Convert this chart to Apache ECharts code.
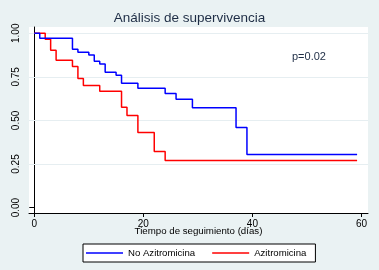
<!DOCTYPE html>
<html>
<head>
<meta charset="utf-8">
<script src="https://cdn.jsdelivr.net/npm/echarts@6/dist/echarts.min.js"></script>
<style>
  html, body { margin: 0; padding: 0; background: #eaf2f3; }
  #chart { width: 379px; height: 270px; }
</style>
</head>
<body>
<div id="chart"></div>
<script>
// tiempos (días) y supervivencia estimada
const noAziTime = [0, 1, 7, 8, 10, 11, 12, 13, 15, 16, 19, 24, 26, 29, 37, 39, 59.2];
const noAziSurv = [1.0, 0.971, 0.908, 0.891, 0.875, 0.839, 0.824, 0.776, 0.759, 0.714, 0.684, 0.655, 0.621, 0.573, 0.46, 0.305, 0.305];
const aziTime = [0, 2, 3, 4, 7, 8, 9, 12, 16, 17, 19, 22, 24, 59.2];
const aziSurv = [1.0, 0.966, 0.902, 0.845, 0.81, 0.741, 0.701, 0.668, 0.575, 0.529, 0.431, 0.322, 0.27, 0.27];
const xTicks = [0, 20, 40, 60];
const yTicks = [0, 0.25, 0.5, 0.75, 1];
const gridLines = [0.25, 0.5, 0.75, 1];

const font = 'Liberation Sans, Arial, sans-serif';
const pairs = (xs, ys) => xs.map((x, i) => [x, ys[i]]);

const chart = echarts.init(document.getElementById('chart'));
chart.setOption({
  backgroundColor: '#eaf2f3',
  animation: false,
  title: {
    text: 'Análisis de supervivencia',
    left: 'center',
    top: 6,
    textStyle: { fontFamily: font, fontSize: 13.5, fontWeight: 'normal', color: '#1e2d45' }
  },
  graphic: [{
    type: 'text', left: 292, top: 51,
    style: { text: 'p=0.02', font: '11px ' + font, fill: '#1e2d45' }
  }],
  legend: {
    top: 244,
    left: 83,
    backgroundColor: '#fff',
    borderColor: '#000',
    borderWidth: 1,
    padding: [4, 9, 4, 3],
    itemGap: 17,
    itemWidth: 37,
    itemHeight: 1.5,
    icon: 'rect',
    textStyle: { fontFamily: font, fontSize: 9.6, color: '#000' },
    data: ['No Azitromicina', 'Azitromicina']
  },
  grid: {
    left: 29, right: 11, top: 27, bottom: 57,
    show: true, backgroundColor: '#fff', borderWidth: 0
  },
  xAxis: {
    type: 'value',
    min: -0.97, max: 61.2,
    name: 'Tiempo de seguimiento (días)',
    nameLocation: 'middle',
    nameGap: 13,
    nameMoveOverlap: false,
    nameTextStyle: { fontFamily: font, fontSize: 9.7, color: '#000' },
    axisLine: { show: true, onZero: false, lineStyle: { color: '#000', width: 1 } },
    axisTick: { show: true, length: 4, customValues: xTicks, lineStyle: { color: '#000' } },
    axisLabel: { customValues: xTicks, fontFamily: font, fontSize: 10, color: '#000', margin: 6 },
    splitLine: { show: false }
  },
  yAxis: {
    type: 'value',
    min: -0.031, max: 1.036,
    axisLine: { show: true, lineStyle: { color: '#000', width: 1 } },
    axisTick: { show: true, length: 5, customValues: yTicks, lineStyle: { color: '#000' } },
    axisLabel: {
      customValues: yTicks, rotate: 90, margin: 8,
      fontFamily: font, fontSize: 10, color: '#000',
      formatter: v => v.toFixed(2)
    },
    splitLine: { show: false }
  },
  series: [
    {
      name: 'No Azitromicina',
      type: 'line',
      step: 'end',
      showSymbol: false,
      symbol: 'none',
      color: '#0000ff',
      lineStyle: { color: '#0000ff', width: 1.5 },
      data: pairs(noAziTime, noAziSurv),
      z: 3,
      markLine: {
        silent: true,
        symbol: 'none',
        label: { show: false },
        lineStyle: { color: '#e6eef1', width: 1, type: 'solid' },
        data: gridLines.map(v => ({ yAxis: v })),
        z: 1
      }
    },
    {
      name: 'Azitromicina',
      type: 'line',
      step: 'end',
      showSymbol: false,
      symbol: 'none',
      color: '#ff0000',
      lineStyle: { color: '#ff0000', width: 1.5 },
      data: pairs(aziTime, aziSurv),
      z: 2
    }
  ]
});
</script>
</body>
</html>
